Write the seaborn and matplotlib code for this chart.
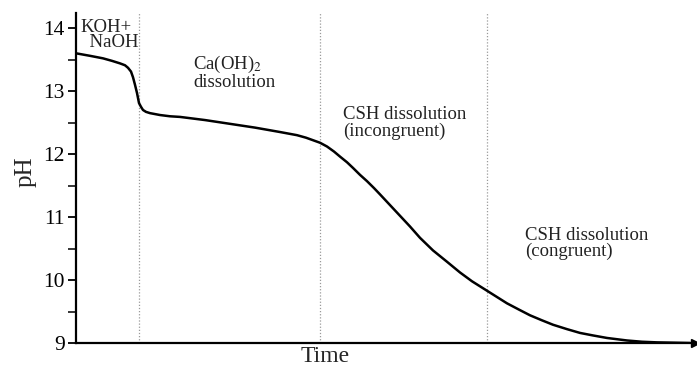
import matplotlib
matplotlib.use("Agg")
import matplotlib.pyplot as plt
import seaborn as sns
import pandas as pd

# pH evolution of cement pore solution during leaching (time in arbitrary units)
time = [0, 14, 27, 36, 44, 49, 52, 55, 57, 59, 61, 63, 65, 67, 70, 74, 84, 94,
        104, 114, 129, 154, 179, 204, 221, 230, 237, 244, 251, 258, 264, 271,
        277, 284, 291, 298, 304, 314, 324, 334, 344, 357, 371, 384, 396, 409,
        420, 431, 443, 454, 466, 477, 491, 504, 517, 531, 551, 566, 581, 598, 614]
ph = [13.60, 13.56, 13.52, 13.48, 13.44, 13.41, 13.37, 13.31, 13.22, 13.10, 12.97,
      12.81, 12.75, 12.70, 12.67, 12.65, 12.62, 12.60, 12.59, 12.57, 12.54, 12.48,
      12.42, 12.35, 12.30, 12.26, 12.22, 12.18, 12.12, 12.04, 11.96, 11.87,
      11.78, 11.67, 11.57, 11.46, 11.36, 11.19, 11.02, 10.85, 10.67, 10.47,
      10.29, 10.12, 9.98, 9.85, 9.74, 9.63, 9.53, 9.44, 9.36, 9.29, 9.22, 9.16,
      9.12, 9.08, 9.04, 9.02, 9.01, 9.005, 9.00]

# stage boundaries
boundaries = [63, 244, 411]

# (time, pH of last baseline, text, line spacing)
stage_labels = [
    (4, 13.70, "KOH+\n  NaOH", 0.84),
    (117, 13.06, "Ca(OH)$_2$\ndissolution", 0.95),
    (267, 12.29, "CSH dissolution\n(incongruent)", 0.95),
    (449, 10.38, "CSH dissolution\n(congruent)", 0.95),
]

y_ticks = [9, 10, 11, 12, 13, 14]

sns.set_theme(style="ticks")
plt.rcParams["font.family"] = ["Liberation Serif", "DejaVu Serif"]
plt.rcParams["mathtext.fontset"] = "stix"

fig = plt.figure(figsize=(6.97, 3.68), dpi=100)
ax = fig.add_axes([76 / 697, 1 - 343 / 368, (695 - 76) / 697, (343 - 13) / 368])

df = pd.DataFrame({"Time": time, "pH": ph})
sns.lineplot(data=df, x="Time", y="pH", ax=ax, color="black", linewidth=1.8)
for line in ax.get_lines():
    line.set_solid_joinstyle("round")
    line.set_solid_capstyle("round")

for b in boundaries:
    ax.axvline(b, color="#9a9a9a", linestyle=(0, (1, 1.5)), linewidth=0.9, zorder=0)

for x, y, s, ls in stage_labels:
    ax.text(x, y, s, fontsize=13.5, color="#222222", ha="left", va="baseline",
            multialignment="left", linespacing=ls)

ax.set_xlim(0, 619)
ax.set_ylim(9, 14.24)
ax.set_yticks(y_ticks)
ax.set_yticks([9.5, 10.5, 11.5, 12.5, 13.5], minor=True)
ax.tick_params(axis="y", which="major", direction="out", length=6, width=1.3,
               labelsize=15.5, colors="black", pad=2)
ax.tick_params(axis="y", which="minor", direction="out", length=6, width=1.3)
ax.set_xticks([])

for side in ["top", "right"]:
    ax.spines[side].set_visible(False)
for side in ["left", "bottom"]:
    ax.spines[side].set_linewidth(1.6)
    ax.spines[side].set_color("black")

# arrowhead at the end of the time axis
ax.plot(1, 0, ">", color="black", markersize=6, transform=ax.transAxes, clip_on=False)

ax.set_ylabel("pH", fontsize=18)
ax.yaxis.set_label_coords(-0.081, 0.518)
ax.yaxis.label.set_va("center")
ax.set_xlabel("Time", fontsize=17)
ax.xaxis.set_label_coords(0.402, -0.058)
ax.xaxis.label.set_va("baseline")

fig.savefig("out.png", dpi=100)
